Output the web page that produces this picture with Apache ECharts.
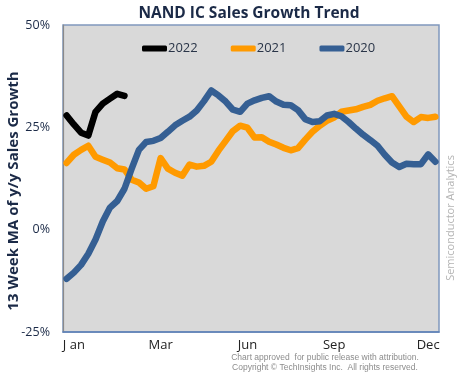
<!DOCTYPE html>
<html><head><meta charset="utf-8">
<script src="https://cdn.jsdelivr.net/npm/echarts@6/dist/echarts.min.js"></script>
<style>html,body{margin:0;padding:0;background:#fff}#c{width:458px;height:373px}</style>
</head><body><div id="c"></div>
<script>
// week index 0..51
const weeks = Array.from({length: 52}, (_, i) => String(i + 1));
const tickLabels = {1: 'J an', 13: 'Mar', 25: 'Jun', 37: 'Sep', 50: 'Dec'};
const yTicks = [-25, 0, 25, 50];

const s2022 = [27.9, 25.7, 23.7, 23.0, 28.8, 30.8, 32.0, 33.2, 32.7];
const s2021 = [16.3, 18.3, 19.5, 20.5, 17.8, 17.1, 16.4, 15.0, 14.7, 12.2,
  11.5, 10.0, 10.6, 17.5, 14.9, 13.9, 13.2, 15.9, 15.4, 15.6,
  16.6, 19.3, 21.7, 24.1, 25.4, 24.9, 22.5, 22.6, 21.5, 20.8,
  20.0, 19.4, 19.9, 22.0, 23.9, 25.4, 26.6, 27.4, 28.8, 29.1,
  29.4, 30.0, 30.5, 31.5, 32.1, 32.6, 30.1, 27.6, 26.3, 27.5,
  27.3, 27.6];
const s2020 = [-12.0, -10.5, -8.6, -5.9, -2.4, 2.0, 5.4, 7.0, 10.0, 14.9,
  19.5, 21.4, 21.7, 22.4, 23.9, 25.5, 26.6, 27.6, 29.1, 31.4,
  34.0, 32.8, 31.3, 29.3, 28.8, 30.8, 31.6, 32.2, 32.6, 31.3,
  30.5, 30.4, 29.2, 27.0, 26.3, 26.5, 27.9, 28.3, 27.7, 26.3,
  24.7, 23.2, 21.9, 20.5, 18.3, 16.4, 15.3, 16.1, 16.0, 16.0,
  18.4, 16.6];

const navy = '#1b2a47';
const chart = echarts.init(document.getElementById('c'), null, {renderer: 'canvas'});
function lineSeries(name, data, color) {
  return {
    name, type: 'line', data, symbol: 'none', smooth: false,
    lineStyle: {color, width: 6.5, cap: 'round', join: 'round'},
    itemStyle: {color}, z: 3
  };
}
chart.setOption({
  animation: false,
  backgroundColor: '#fff',
  title: {
    text: 'NAND IC Sales Growth Trend', left: 244, top: 1, textAlign: 'center',
    textStyle: {fontFamily: 'Open Sans', fontWeight: 'bold', fontSize: 15.5, color: navy}
  },
  legend: {
    top: 37, left: 137, itemGap: 33, itemWidth: 25, itemHeight: 6,
    icon: 'roundRect',
    data: ['2022', '2021', '2020'],
    textStyle: {fontFamily: 'Open Sans', fontSize: 13, color: '#2a3548', padding: [0, 0, 0, -4]}
  },
  grid: {left: 63, right: 19, top: 25, bottom: 41, show: true, backgroundColor: '#d9d9d9',
    borderColor: '#8098bd', borderWidth: 1.5},
  xAxis: {
    type: 'category', data: weeks, boundaryGap: true,
    axisLine: {onZero: false, lineStyle: {color: '#5b7fb6', width: 1.5}},
    axisTick: {show: false},
    axisLabel: {
      interval: 0, margin: 7, color: '#222', fontFamily: 'Open Sans', fontSize: 13,
      formatter: (v, i) => tickLabels[i] || ''
    },
    splitLine: {show: false}
  },
  yAxis: {
    type: 'value', min: yTicks[0], max: yTicks[yTicks.length - 1], interval: 25,
    axisLine: {show: true, onZero: false, lineStyle: {color: '#8a8a8a', width: 1.2}},
    axisTick: {show: false},
    splitLine: {show: false},
    axisLabel: {margin: 13, color: navy, fontFamily: 'Open Sans', fontSize: 12.5, formatter: '{value}%'}
  },
  graphic: [
    {type: 'text', x: 14, y: 191, rotation: Math.PI / 2,
      style: {text: '13 Week MA of y/y Sales Growth', fill: navy, font: 'bold 15px "Open Sans"',
        align: 'center', verticalAlign: 'middle'}},
    {type: 'text', x: 451, y: 218, rotation: Math.PI / 2,
      style: {text: 'Semiconductor Analytics', fill: '#b4b4b4', font: '11px "Open Sans"',
        align: 'center', verticalAlign: 'middle'}},
    {type: 'text', x: 325, y: 358,
      style: {text: 'Chart approved  for public release with attribution.', fill: '#8c8c8c',
        font: '8.5px "Liberation Sans"', align: 'center', verticalAlign: 'middle'}},
    {type: 'text', x: 325, y: 367.5,
      style: {text: 'Copyright \u00a9 TechInsights Inc.  All rights reserved.', fill: '#8c8c8c',
        font: '8.5px "Liberation Sans"', align: 'center', verticalAlign: 'middle'}}
  ],
  series: [
    lineSeries('2022', s2022, '#000000'),
    lineSeries('2021', s2021, '#ff9a00'),
    lineSeries('2020', s2020, '#355f93')
  ]
});
</script></body></html>
